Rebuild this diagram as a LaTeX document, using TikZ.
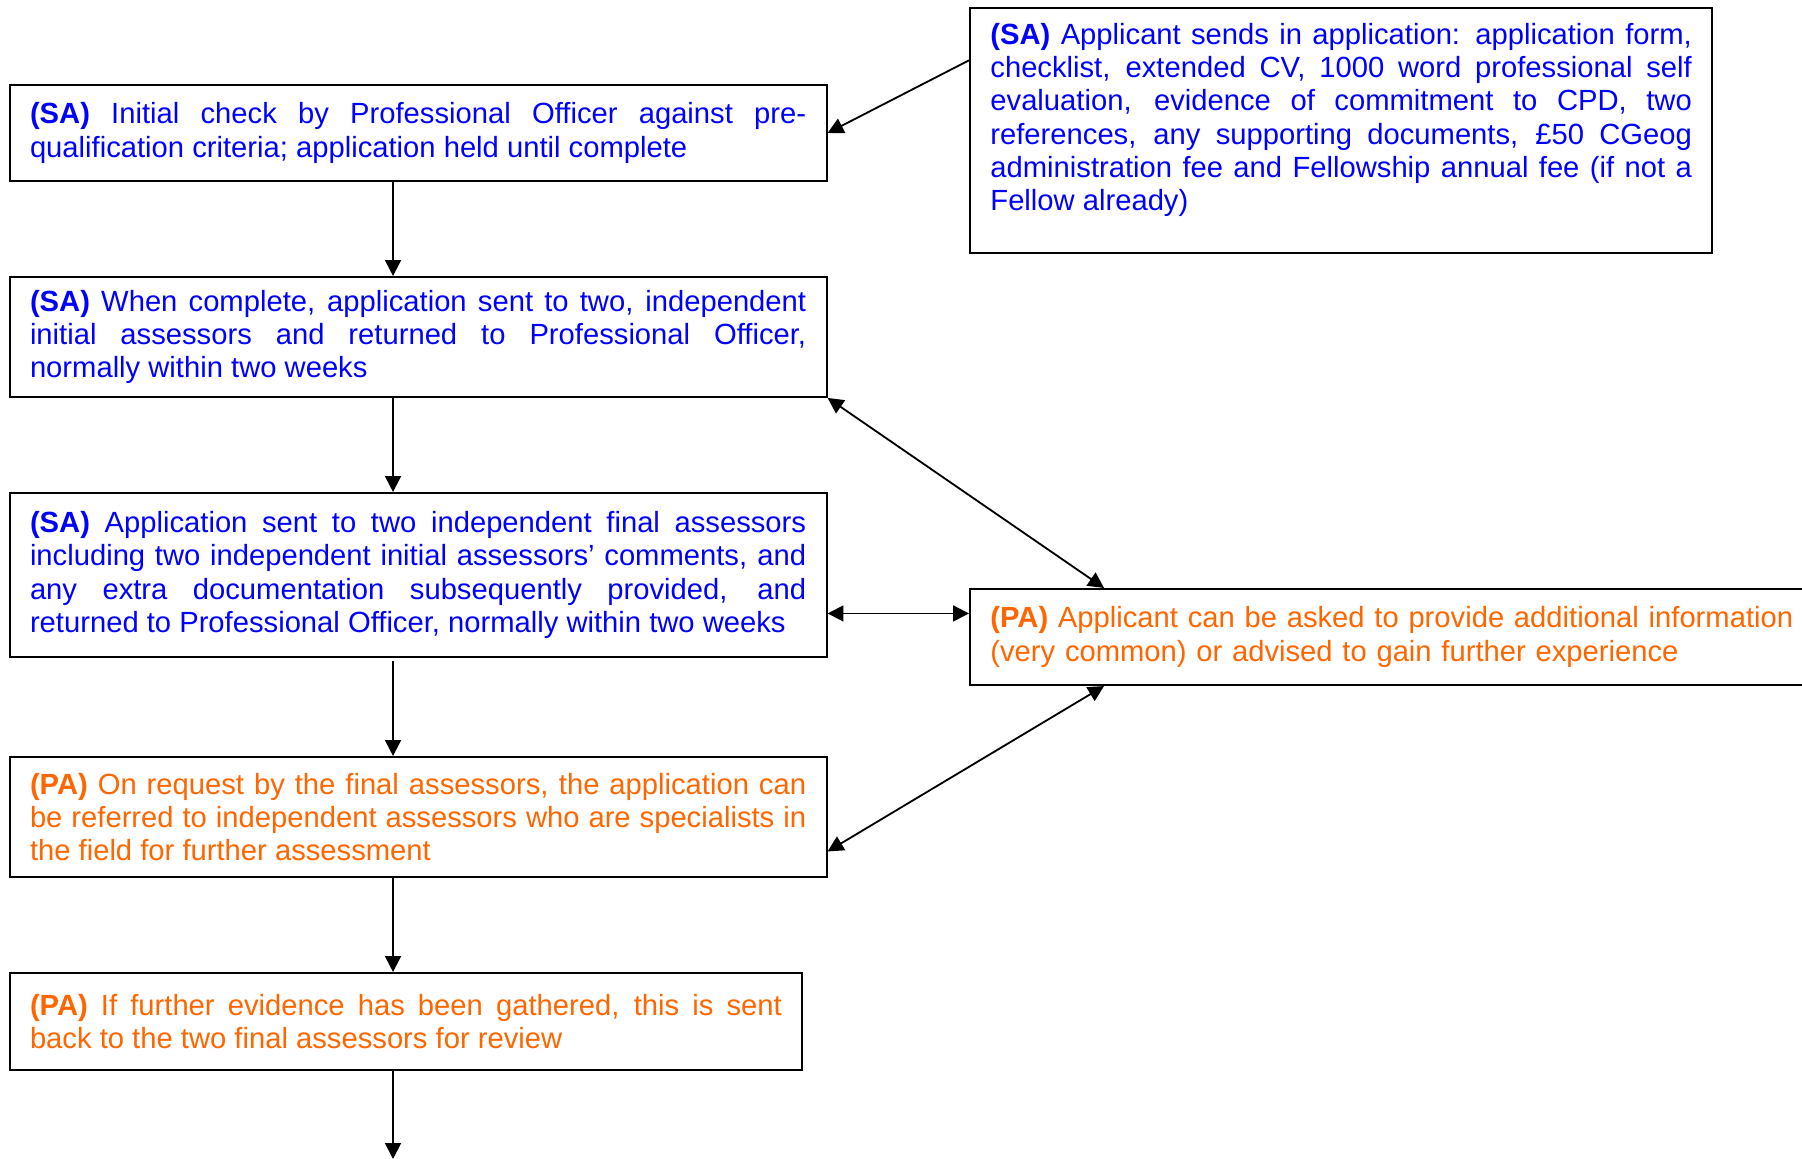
\documentclass[tikz,border=0pt]{standalone}
\usepackage{fontspec}
\setmainfont{Liberation Sans}
\usetikzlibrary{arrows.meta,calc}
\definecolor{sablue}{RGB}{0,0,255}
\definecolor{paorange}{RGB}{255,102,0}
\tikzset{
  box/.style={draw=black, line width=0.8pt, anchor=north west, align=justify,
    inner xsep=8.4pt, inner ysep=0pt,
    font=\fontsize{12}{13.7}\selectfont},
  sabox/.style={box, text=sablue},
  pabox/.style={box, text=paorange},
  conn/.style={line width=0.75pt, -{Triangle[length=6.5pt,width=6.5pt]}},
  dconn/.style={line width=0.75pt, {Triangle[length=6.5pt,width=6.5pt]}-{Triangle[length=6.5pt,width=6.5pt]}}
}
\begin{document}
\begin{tikzpicture}[x=0.411pt,y=-0.411pt]
\useasboundingbox (0,0) rectangle (1802,1159);
\clip (0,0) rectangle (1802,1159);

\node[sabox, text width=288.3pt, minimum height=100.7pt] (sa0) at (969,7)
 {\textbf{(SA)} Applicant sends in application: application form,\linebreak
  checklist, extended CV, 1000 word professional self\linebreak
  evaluation, evidence of commitment to CPD, two\linebreak
  references, any supporting documents, £50 CGeog\linebreak
  administration fee and Fellowship annual fee (if not a\linebreak
  Fellow already)\par\vspace{8.6pt}};

\node[sabox, text width=319pt, minimum height=39.5pt] (b1) at (8.6,84)
 {\textbf{(SA)} Initial check by Professional Officer against pre-\linebreak
  qualification criteria; application held until complete};

\node[sabox, text width=319pt, minimum height=49.3pt] (b2) at (8.6,276)
 {\textbf{(SA)} When complete, application sent to two, independent\linebreak
  initial assessors and returned to Professional Officer,\linebreak
  normally within two weeks};

\node[sabox, text width=319pt, minimum height=67.4pt] (b3) at (8.6,492)
 {\textbf{(SA)} Application sent to two independent final assessors\linebreak
  including two independent initial assessors’ comments, and\linebreak
  any extra documentation subsequently provided, and\linebreak
  returned to Professional Officer, normally within two weeks};

\node[pabox, text width=319pt, minimum height=49.3pt] (b4) at (8.6,756)
 {\textbf{(PA)} On request by the final assessors, the application can\linebreak
  be referred to independent assessors who are specialists in\linebreak
  the field for further assessment};

\node[pabox, text width=309pt, minimum height=39.9pt] (b5) at (8.6,972)
 {\textbf{(PA)} If further evidence has been gathered, this is sent\linebreak
  back to the two final assessors for review};

\node[pabox, align=left, text width=345pt, minimum height=39.5pt] (pa) at (969,588)
 {\textbf{(PA)} Applicant can be asked to provide additional information\\
  (very common) or advised to gain further experience};

\coordinate (end) at (393,1159);

% vertical flow (spine at 158pt from the left edge of the boxes)
\draw[conn] ([xshift=158pt]b1.south west) -- ([xshift=158pt]b2.north west);
\draw[conn] ([xshift=158pt]b2.south west) -- ([xshift=158pt]b3.north west);
\draw[conn, shorten <=1.2pt] ([xshift=158pt]b3.south west) -- ([xshift=158pt]b4.north west);
\draw[conn] ([xshift=158pt]b4.south west) -- ([xshift=158pt]b5.north west);
\draw[conn] ([xshift=158pt]b5.south west) -- (end);

% application in
\draw[conn] ($(sa0.north west)!0.216!(sa0.south west)$) -- (b1.east);

% PA links
\draw[dconn] (b2.south east) -- ([xshift=55.5pt]pa.north west);
\coordinate (b3e) at ($(b3.north east)!0.732!(b3.south east)$);
\draw[dconn] (b3e) -- (b3e -| pa.west);
\draw[dconn] ([xshift=55.5pt]pa.south west) -- ($(b4.north east)!0.783!(b4.south east)$);
\end{tikzpicture}
\end{document}
